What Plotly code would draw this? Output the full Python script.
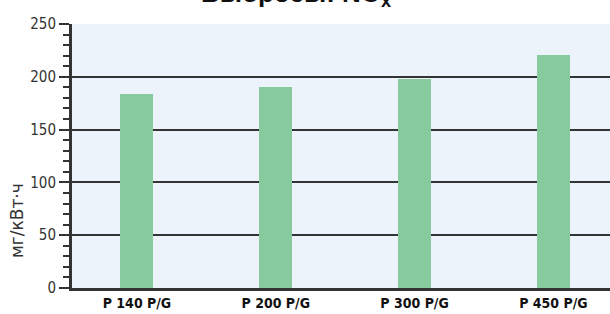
import plotly.graph_objects as go

categories = ["P 140 P/G", "P 200 P/G", "P 300 P/G", "P 450 P/G"]
values = [184, 190, 198, 221]
y_ticks = [0, 50, 100, 150, 200, 250]
title_text = "Выбросы: NO<sub>x</sub>"
y_label = "мг/кВт·ч"

NARROW = "DejaVu Sans Condensed, Liberation Sans Narrow, sans-serif"

L, T, B = 72, 24, 288
W = 610 - L
H = B - T

fig = go.Figure()
fig.add_trace(go.Bar(
    x=list(range(len(categories))),
    y=values,
    width=0.238,
    marker=dict(color="#86CA9E", line=dict(width=0)),
))

fig.update_layout(
    width=610, height=314,
    margin=dict(l=L, r=0, t=T, b=314 - B, autoexpand=False),
    paper_bgcolor="white",
    plot_bgcolor="#ECF3FB",
    showlegend=False,
    bargap=0,
)

fig.update_xaxes(
    range=[-0.468, 3.408],
    tickmode="array",
    tickvals=list(range(len(categories))),
    ticktext=categories,
    ticks="",
    showgrid=False,
    zeroline=False,
    automargin=False,
    showline=True, linecolor="#333333", linewidth=3,
    tickfont=dict(family=NARROW, size=14, color="#111111", weight="bold"),
)

fig.update_yaxes(
    range=[0, 250],
    tickmode="array",
    tickvals=y_ticks,
    ticks="outside", ticklen=10, tickwidth=2, tickcolor="#333333",
    showgrid=True, gridcolor="#333333", gridwidth=2,
    zeroline=False,
    automargin=False,
    showline=True, linecolor="#333333", linewidth=3,
    tickfont=dict(family=NARROW, size=15, color="#333333"),
    minor=dict(dtick=10, ticks="outside", ticklen=6, tickwidth=2, tickcolor="#333333", showgrid=False),
)

fig.add_annotation(
    text=y_label, xref="paper", yref="paper",
    x=(17 - L) / W, y=(B - 221) / H,
    xanchor="center", yanchor="middle",
    textangle=-90, showarrow=False,
    font=dict(family="DejaVu Sans, sans-serif", size=17, color="#333333"),
)

fig.add_annotation(
    text=title_text, xref="paper", yref="paper",
    x=(296 - L) / W, y=(B - 13) / H,
    xanchor="center", yanchor="bottom", showarrow=False,
    font=dict(family="Liberation Sans, Arial, sans-serif", size=26, color="#111111", weight="bold"),
)

fig.write_html(
    "out.html",
    config={"displayModeBar": False},
    post_script="document.body.style.margin='0';document.body.style.padding='0';document.body.style.overflow='hidden';",
)
